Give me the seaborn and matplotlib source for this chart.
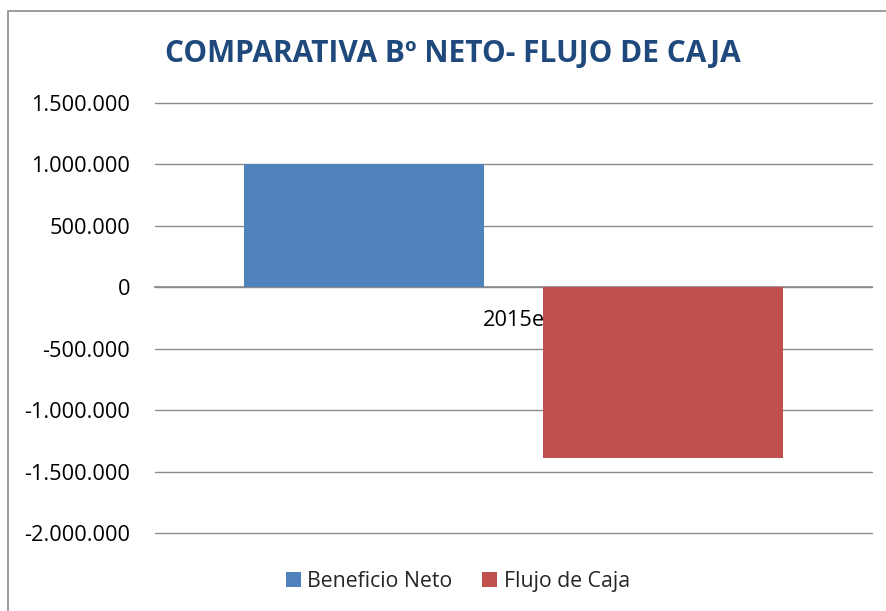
import matplotlib
matplotlib.use("Agg")
import matplotlib.pyplot as plt
import matplotlib.ticker as mticker
from matplotlib.patches import Rectangle
import pandas as pd
import seaborn as sns

# datos del grafico
categorias = ["2015e"]
series = ["Beneficio Neto", "Flujo de Caja"]
valores = [1000000, -1390000]
colores = ["#4F81BD", "#C0504D"]
ticks_y = [-2000000, -1500000, -1000000, -500000, 0, 500000, 1000000, 1500000]

df = pd.DataFrame({"Año": categorias * len(series), "Serie": series, "Valor": valores})

sns.set_theme(style="white")
plt.rcParams["font.family"] = ["Open Sans", "DejaVu Sans"]

fig = plt.figure(figsize=(8.86, 6.11), dpi=100)
ax = fig.add_axes([155 / 886, 1 - 533 / 611, (872 - 155) / 886, (533 - 103) / 611])

sns.barplot(data=df, x="Año", y="Valor", hue="Serie", palette=colores,
            width=0.833, gap=0.198, saturation=1, linewidth=0, ax=ax, zorder=2)

ax.set_xlim(-0.5, 0.5)
ax.set_ylim(-2000000, 1500000)
ax.set_yticks(ticks_y)
ax.yaxis.set_major_formatter(mticker.FuncFormatter(
    lambda v, p: f"{v:,.0f}".replace(",", ".")))
ax.set_axisbelow(True)
ax.grid(axis="y", color="#8c8c8c", linewidth=1.0)
for gl in ax.get_ygridlines():
    gl.set_clip_on(False)
ax.set_xlabel("")
ax.set_ylabel("")
for s in ["top", "right", "left"]:
    ax.spines[s].set_visible(False)
ax.spines["bottom"].set_position(("data", 0))
ax.spines["bottom"].set_color("#8c8c8c")
ax.spines["bottom"].set_zorder(0.5)
ax.tick_params(axis="y", length=0, pad=18, labelsize=15.7, labelcolor="black")
ax.tick_params(axis="x", length=0, pad=16, labelsize=15.7, labelcolor="black")

sns.move_legend(ax, "center", bbox_to_anchor=(0.517, 0.049), bbox_transform=fig.transFigure,
                ncol=2, frameon=False, title=None, fontsize=15.3,
                handlelength=0.7, handleheight=0.7, handletextpad=0.3, columnspacing=1.4)

fig.text(453 / 886, 1 - 54 / 611, "COMPARATIVA Bº NETO- FLUJO DE CAJA",
         ha="center", va="center", fontsize=21.5, fontweight="bold", color="#1F497D")

fig.patches.append(Rectangle((8 / 886, -0.1), 1.2, (611 - 11) / 611 + 0.1,
                             transform=fig.transFigure, fill=False,
                             edgecolor="#8c8c8c", linewidth=1.2))

fig.savefig("out.png", dpi=100)
